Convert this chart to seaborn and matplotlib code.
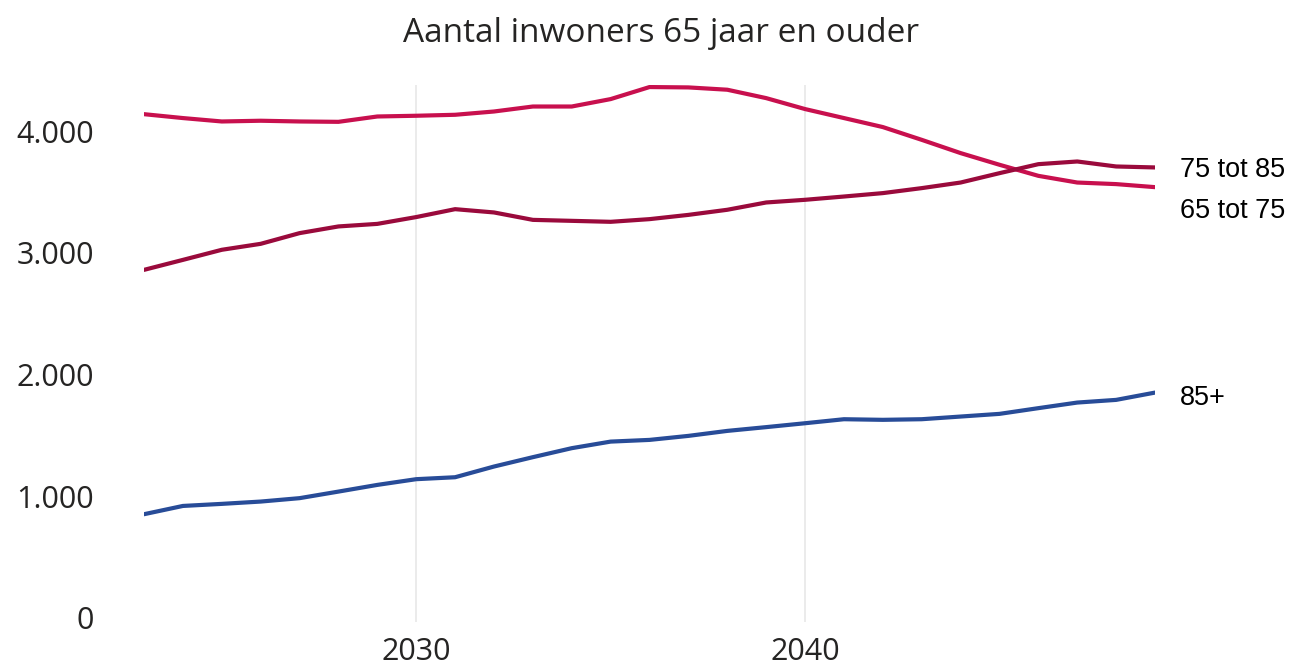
import matplotlib
matplotlib.use("Agg")
import matplotlib.pyplot as plt
import seaborn as sns
import pandas as pd

# Population aged 65 and over, by age group (projection)
jaren = list(range(2023, 2050))

groep_65_75 = [4140, 4108, 4080, 4086, 4080, 4077, 4121, 4127, 4135, 4162,
               4203, 4203, 4264, 4363, 4360, 4341, 4272, 4182, 4108, 4034,
               3929, 3820, 3724, 3633, 3578, 3565, 3540]
groep_75_85 = [2860, 2942, 3025, 3074, 3162, 3217, 3238, 3294, 3359, 3332,
               3271, 3263, 3255, 3277, 3312, 3354, 3414, 3436, 3463, 3491,
               3532, 3578, 3655, 3729, 3751, 3710, 3702]
groep_85_plus = [851, 919, 936, 955, 983, 1037, 1092, 1139, 1155, 1243,
                 1320, 1394, 1448, 1462, 1495, 1536, 1567, 1599, 1632, 1627,
                 1632, 1654, 1676, 1723, 1769, 1791, 1851]

groepen = ["65 tot 75", "75 tot 85", "85+"]
kleuren = ["#C8104E", "#9A0A3C", "#284C98"]

y_ticks = [0, 1000, 2000, 3000, 4000]
y_labels = ["0", "1.000", "2.000", "3.000", "4.000"]
x_ticks = [2030, 2040]
x_labels = ["2030", "2040"]

titel = "Aantal inwoners 65 jaar en ouder"

df = pd.DataFrame({
    "jaar": jaren * 3,
    "inwoners": groep_65_75 + groep_75_85 + groep_85_plus,
    "groep": [groepen[0]] * len(jaren) + [groepen[1]] * len(jaren) + [groepen[2]] * len(jaren),
})

sns.set_theme(style="white")
plt.rcParams["font.family"] = ["Open Sans", "DejaVu Sans"]

fig = plt.figure(figsize=(12.94, 6.66), dpi=100)
ax = fig.add_axes([0.1113, 0.0661, 0.7813, 0.8063])

sns.lineplot(data=df, x="jaar", y="inwoners", hue="groep", hue_order=groepen,
             palette=kleuren, linewidth=3.0, legend=False, ax=ax,
             solid_joinstyle="round", solid_capstyle="round")

ax.set_xlim(2023, 2049)
ax.set_ylim(-35, 4380)
ax.set_xticks(x_ticks)
ax.set_xticklabels(x_labels)
ax.set_yticks(y_ticks)
ax.set_yticklabels(y_labels)
ax.set_xlabel("")
ax.set_ylabel("")

ax.grid(axis="x", color="#EBEBEB", linewidth=1.4)
ax.grid(axis="y", visible=False)
for s in ax.spines.values():
    s.set_visible(False)

ax.tick_params(axis="y", length=0, pad=36, labelsize=22, labelcolor="#252423")
ax.tick_params(axis="x", length=0, pad=11, labelsize=22, labelcolor="#252423")

# End-of-line labels
eind = {groepen[0]: groep_65_75[-1], groepen[1]: groep_75_85[-1], groepen[2]: groep_85_plus[-1]}
verschuiving = {groepen[0]: -17, groepen[1]: -1.7, groepen[2]: -3.8}
for g in groepen:
    ax.annotate(g, xy=(jaren[-1], eind[g]), xytext=(18, verschuiving[g]),
                textcoords="offset points", ha="left", va="center",
                fontsize=19.5, family=["Liberation Sans", "DejaVu Sans"],
                color="black", annotation_clip=False)

fig.text(661 / 1294, 1 - 33 / 666, titel, ha="center", va="center",
         fontsize=24, color="#252423")

fig.savefig("out.png", dpi=100)
